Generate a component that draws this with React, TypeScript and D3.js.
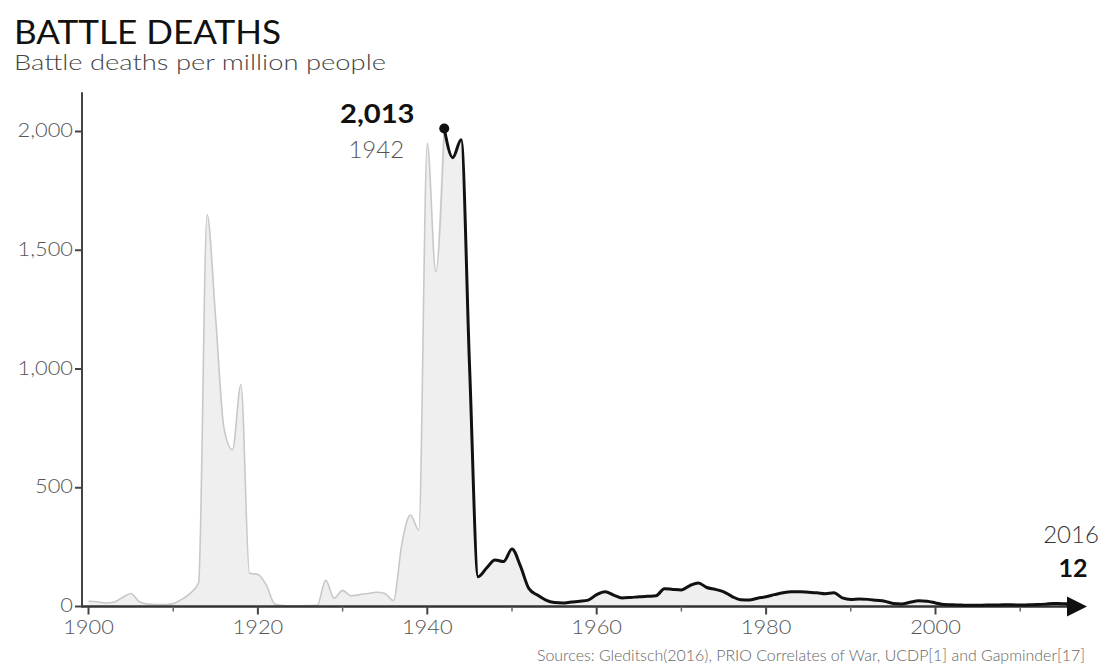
import React from "react";
import * as d3 from "d3";

const startYear = 1900;
// Battle deaths per million people, 1900..2016 (one value per year)
const deaths: number[] = [
  22, 20, 15, 18, 38, 55, 20, 10, 8, 8, // 1900-1909
  12, 30, 55, 100, 1650, 1220, 750, 660, 935, 140, // 1910-1919
  135, 90, 10, 4, 3, 3, 4, 5, 110, 35, // 1920-1929
  68, 45, 50, 55, 60, 55, 25, 265, 385, 322, // 1930-1939
  1950, 1410, 2013, 1890, 1965, 1000, 125, 162, 196, 189, // 1940-1949
  242, 170, 75, 48, 27, 17, 15, 19, 22, 27, // 1950-1959
  50, 62, 48, 36, 38, 41, 43, 45, 75, 72, // 1960-1969
  70, 88, 99, 80, 72, 62, 42, 28, 27, 35, // 1970-1979
  41, 50, 58, 62, 62, 60, 58, 54, 58, 36, // 1980-1989
  30, 32, 30, 26, 22, 13, 11, 18, 24, 22, // 1990-1999
  15, 8, 7, 6, 5, 5, 6, 6, 7, 7, // 2000-2009
  6, 7, 8, 10, 13, 12, 12, // 2010-2016
];
const highlightYear = 1942;
const yTicks: number[] = [0, 500, 1000, 1500, 2000];
const xMajorTicks: number[] = [1900, 1920, 1940, 1960, 1980, 2000];
const xMinorTicks: number[] = [1910, 1930, 1950, 1970, 1990, 2010];
const title = "BATTLE DEATHS";
const subtitle = "Battle deaths per million people";
const sources = "Sources: Gleditsch(2016), PRIO Correlates of War, UCDP[1] and Gapminder[17]";

type Pt = { year: number; value: number };
const data: Pt[] = deaths.map((v, i) => ({ year: startYear + i, value: v }));

function SText(props: {
  x: number;
  y: number;
  sx?: number;
  anchor?: "start" | "middle" | "end";
  size: number;
  weight?: number;
  fill: string;
  dy?: string;
  children: React.ReactNode;
}) {
  const { x, y, sx = 1.15, anchor = "start", size, weight = 400, fill, dy, children } = props;
  return (
    <g transform={`translate(${x},${y}) scale(${sx},1)`}>
      <text textAnchor={anchor} fontSize={size} fontWeight={weight} fill={fill} dy={dy}>
        {children}
      </text>
    </g>
  );
}

export default function App() {
  const W = 1104;
  const H = 668;
  const x = d3.scaleLinear().domain([1900, 2000]).range([88.5, 935.5]);
  const y = d3.scaleLinear().domain([0, 2000]).range([606.5, 131.5]);
  const axisX = 82;
  const font = "Lato, 'Open Sans', sans-serif";

  const curve = d3.curveMonotoneX;
  const area = d3
    .area<Pt>()
    .x((d) => x(d.year))
    .y0(y(0))
    .y1((d) => y(d.value))
    .curve(curve);
  const line = d3
    .line<Pt>()
    .x((d) => x(d.year))
    .y((d) => y(d.value))
    .curve(curve);

  const greyPart = data.filter((d) => d.year <= highlightYear);
  const blackPart = data.filter((d) => d.year >= highlightYear);
  const last = data[data.length - 1];
  const peak = data.find((d) => d.year === highlightYear)!;

  const lx = x(last.year);
  const ly = y(last.value);
  const arrowBase = lx - 4;
  const arrowTip = lx + 16;
  const arrow = `M${arrowBase},${y(0) - 10}L${arrowTip},${y(0)}L${arrowBase},${y(0) + 10}Z`;

  return (
    <svg
      width={W}
      height={H}
      style={{ position: "absolute", left: 0, top: 0, background: "#fff" }}
      fontFamily={font}
    >
      <text
        x={14}
        y={44}
        fontSize={32}
        fill="#111"
        fontWeight={400}
        textLength={267}
        lengthAdjust="spacingAndGlyphs"
      >
        {title}
      </text>
      <text
        x={14}
        y={70}
        fontSize={21}
        fill="#444"
        fontWeight={300}
        textLength={372}
        lengthAdjust="spacingAndGlyphs"
      >
        {subtitle}
      </text>

      {/* area */}
      <path d={area(data) || ""} fill="#efefef" />
      <path d={line(greyPart) || ""} fill="none" stroke="#c8c8c8" strokeWidth={1.6} />

      {/* y axis */}
      <line x1={axisX} x2={axisX} y1={y(2165)} y2={y(0) + 1} stroke="#444" strokeWidth={2} />
      {yTicks.map((t) => (
        <g key={t}>
          <line x1={axisX - 7} x2={axisX} y1={y(t)} y2={y(t)} stroke="#444" strokeWidth={2} />
          <SText x={axisX - 9} y={y(t) - 1} dy="0.35em" anchor="end" size={19} weight={300} fill="#555">
            {d3.format(",")(t)}
          </SText>
        </g>
      ))}

      {/* x axis */}
      <line x1={axisX} x2={arrowBase} y1={y(0)} y2={y(0)} stroke="#333" strokeWidth={2.5} />
      {xMajorTicks.map((t) => (
        <g key={t}>
          <line x1={x(t)} x2={x(t)} y1={y(0)} y2={y(0) + 8} stroke="#444" strokeWidth={2} />
          <SText x={x(t)} y={y(0) + 27} anchor="middle" size={19} weight={300} fill="#555" sx={1.15}>
            {t}
          </SText>
        </g>
      ))}
      {xMinorTicks.map((t) => (
        <line key={t} x1={x(t)} x2={x(t)} y1={y(0)} y2={y(0) + 5} stroke="#666" strokeWidth={1.5} />
      ))}

      {/* highlighted line */}
      <path d={line(blackPart) || ""} fill="none" stroke="#111" strokeWidth={3} strokeLinejoin="round" />
      <line x1={lx} x2={arrowBase} y1={ly} y2={y(0)} stroke="#111" strokeWidth={3} />
      <path d={arrow} fill="#111" />
      <circle cx={x(peak.year)} cy={y(peak.value)} r={5} fill="#111" />

      {/* peak annotation */}
      <SText x={x(peak.year) - 67} y={y(peak.value) - 5} anchor="middle" size={27} weight={700} fill="#111" sx={1.08}>
        {d3.format(",")(peak.value)}
      </SText>
      <SText x={x(peak.year) - 68} y={y(peak.value) + 30} anchor="middle" size={24} weight={300} fill="#555" sx={1}>
        {peak.year}
      </SText>

      {/* last value annotation */}
      <SText x={lx} y={543} anchor="middle" size={24} weight={300} fill="#333" sx={1}>
        {last.year}
      </SText>
      <SText x={lx + 2} y={577} anchor="middle" size={25} weight={700} fill="#111" sx={1}>
        {last.value}
      </SText>

      <text
        x={1085}
        y={661}
        textAnchor="end"
        fontSize={15}
        fontWeight={300}
        fill="#666"
        textLength={548}
        lengthAdjust="spacingAndGlyphs"
      >
        {sources}
      </text>
    </svg>
  );
}
